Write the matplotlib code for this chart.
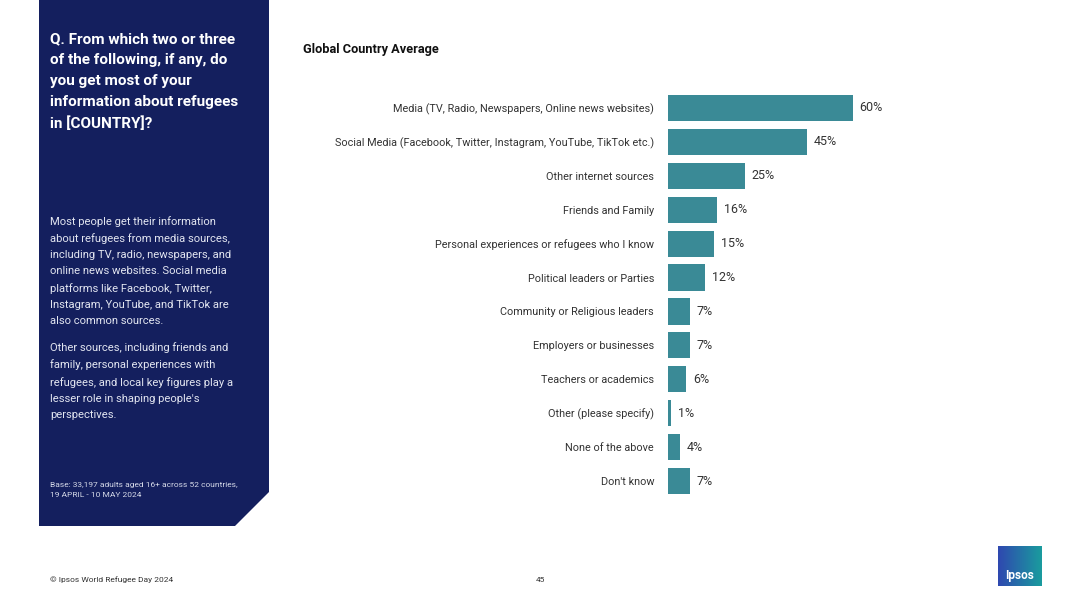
"""Ipsos World Refugee Day 2024 - sources of information about refugees."""

import matplotlib.pyplot as plt
import numpy as np
from matplotlib.colors import LinearSegmentedColormap
from matplotlib.patches import Polygon

plt.rcParams["font.family"] = ["Roboto", "DejaVu Sans"]

W, H = 1080, 607

CATEGORIES = [
    "Media (TV, Radio, Newspapers, Online news websites)",
    "Social Media (Facebook, Twitter, Instagram, YouTube, TikTok etc.)",
    "Other internet sources",
    "Friends and Family",
    "Personal experiences or refugees who I know",
    "Political leaders or Parties",
    "Community or Religious leaders",
    "Employers or businesses",
    "Teachers or academics",
    "Other (please specify)",
    "None of the above",
    "Don't know",
]
VALUES = [60, 45, 25, 16, 15, 12, 7, 7, 6, 1, 4, 7]

QUESTION = ("Q. From which two or three\nof the following, if any, do\n"
            "you get most of your\ninformation about refugees\nin [COUNTRY]?")
PARA1 = ("Most people get their information\nabout refugees from media sources,\n"
         "including TV, radio, newspapers, and\nonline news websites. Social media\n"
         "platforms like Facebook, Twitter,\nInstagram, YouTube, and TikTok are\n"
         "also common sources.")
PARA2 = ("Other sources, including friends and\nfamily, personal experiences with\n"
         "refugees, and local key figures play a\nlesser role in shaping people's\n"
         "perspectives.")
BASE = "Base: 33,197 adults aged 16+ across 52 countries,\n19 APRIL - 10 MAY 2024"

NAVY = "#141f5e"
TEAL = "#3a8a96"


def fx(x):
    return x / W


def fy(y):
    return 1 - y / H


fig = plt.figure(figsize=(W / 100, H / 100), dpi=100)
fig.patch.set_facecolor("white")

# left panel with clipped bottom-right corner
panel = Polygon(
    [(fx(39), fy(0)), (fx(269), fy(0)), (fx(269), fy(492)),
     (fx(235), fy(526)), (fx(39), fy(526))],
    closed=True, transform=fig.transFigure, facecolor=NAVY, edgecolor="none",
)
fig.patches.append(panel)

fig.text(fx(50), fy(32), QUESTION, color="white", fontsize=11,
         fontweight="bold", va="top", ha="left", linespacing=1.63)
fig.text(fx(50), fy(216), PARA1, color="#e2e5f0", fontsize=8.1,
         va="top", ha="left", linespacing=1.75)
fig.text(fx(50), fy(342), PARA2, color="#e2e5f0", fontsize=8.1,
         va="top", ha="left", linespacing=1.75)
fig.text(fx(50), fy(482), BASE, color="#d5d9e8", fontsize=6,
         va="top", ha="left", linespacing=1.75)

fig.text(fx(303), fy(49), "Global Country Average", fontsize=9.2,
         fontweight="bold", va="center", ha="left", color="#111111")

# footer
fig.text(fx(50), fy(580), "\u00a9 Ipsos World Refugee Day 2024", fontsize=6,
         va="center", ha="left", color="#333333")
fig.text(fx(540), fy(580), "45", fontsize=6, va="center", ha="center",
         color="#333333")

# Ipsos logo
lax = fig.add_axes([fx(998), fy(586), fx(1042) - fx(998), fy(546) - fy(586)])
grad = np.linspace(0, 1, 64).reshape(1, -1)
cmap = LinearSegmentedColormap.from_list("ipsos", ["#2f48b0", "#1a9c9e"])
lax.imshow(grad, cmap=cmap, aspect="auto", extent=[0, 1, 0, 1])
lax.text(0.5, 0.27, "Ipsos", color="white", fontsize=8.5, fontweight="bold",
         ha="center", va="center")
lax.set_axis_off()

# bar chart
ax = fig.add_axes([fx(668), fy(498), fx(976) - fx(668), fy(91) - fy(498)])
y = np.arange(len(CATEGORIES))
ax.barh(y, VALUES, height=0.77, color=TEAL)
for yi, v in zip(y, VALUES):
    ax.text(v + 2.2, yi, f"{v}%", va="center", ha="left", fontsize=9,
            color="#333333")
ax.set_xlim(0, 100)
ax.set_ylim(len(CATEGORIES) - 0.5, -0.5)
ax.set_yticks(y)
ax.set_yticklabels(CATEGORIES, fontsize=7.8, color="#333333")
ax.tick_params(axis="y", length=0, pad=10)
ax.set_xticks([])
for s in ax.spines.values():
    s.set_visible(False)
ax.patch.set_alpha(0)

fig.savefig("out.png", dpi=100)
